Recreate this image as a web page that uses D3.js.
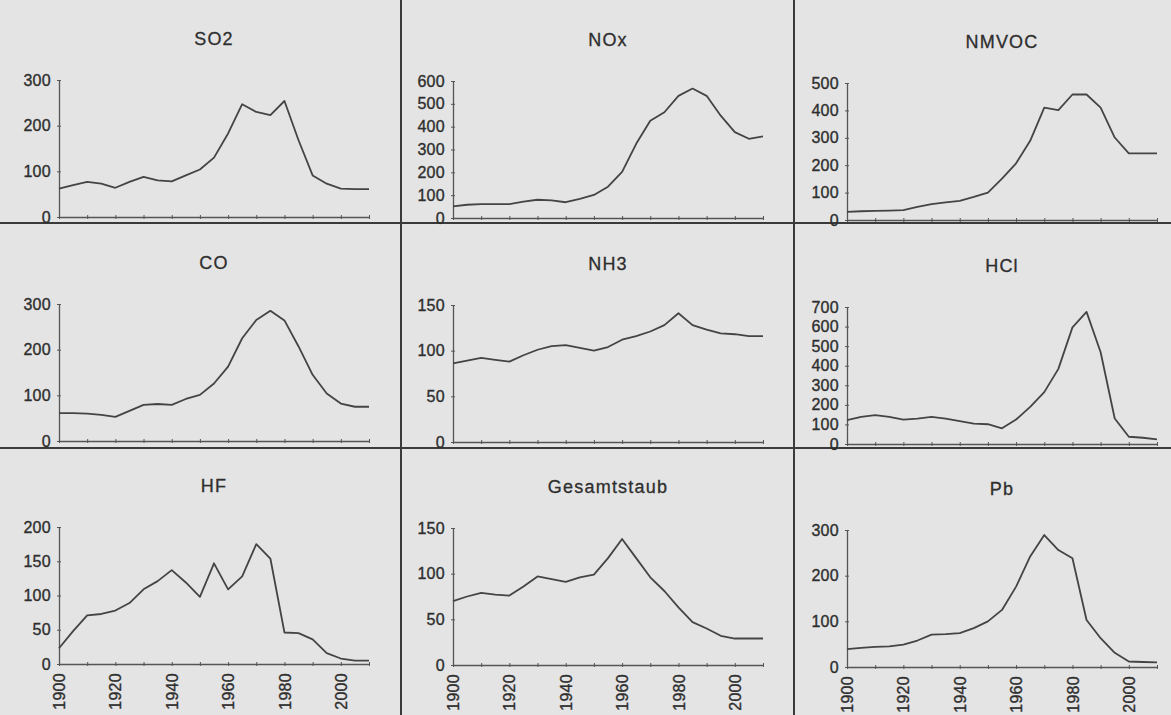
<html>
<head>
  <meta charset="utf-8"/>
  <title>Emissionen 1900-2010</title>
  <style>
    body { margin: 0; background: #e4e4e4; }
    svg { display: block; }
    text { font-family: "Liberation Sans", Arial, sans-serif; fill: #2e2e2e; }
  </style>
</head>
<body>
  <div id="chart"></div>
  <script src="https://d3js.org/d3.v7.min.js"></script>
  <script>

  // years (every 5 years)
  var years = [1900, 1905, 1910, 1915, 1920, 1925, 1930, 1935, 1940, 1945, 1950, 1955,
               1960, 1965, 1970, 1975, 1980, 1985, 1990, 1995, 2000, 2005, 2010];

  var titles = ["SO2", "NOx", "NMVOC", "CO", "NH3", "HCl", "HF", "Gesamtstaub", "Pb"];

  var so2   = [62, 70, 77, 73, 64, 77, 88, 80, 78, 91, 104, 130, 183, 247, 230, 223, 254, 168, 91, 73, 62, 61, 61];
  var nox   = [51, 58, 61, 61, 61, 72, 80, 77, 69, 84, 101, 137, 202, 325, 426, 463, 535, 567, 535, 448, 376, 347, 357];
  var nmvoc = [30, 32, 33, 34, 36, 48, 58, 64, 70, 84, 100, 151, 207, 289, 410, 401, 458, 458, 410, 301, 243, 243, 243];
  var co    = [61, 61, 60, 57, 53, 66, 79, 81, 79, 92, 101, 126, 163, 225, 265, 285, 264, 207, 145, 104, 82, 75, 75];
  var nh3   = [86, 89, 92, 90, 88, 95, 101, 105, 106, 103, 100, 104, 112, 116, 121, 128, 141, 128, 123, 119, 118, 116, 116];
  var hcl   = [122, 139, 147, 139, 125, 130, 139, 130, 117, 104, 101, 80, 125, 190, 265, 384, 596, 675, 469, 130, 37, 32, 24];
  var hf    = [23, 48, 71, 73, 78, 89, 109, 121, 137, 119, 98, 147, 109, 128, 175, 154, 46, 45, 36, 16, 8, 5, 5];
  var staub = [70, 75, 79, 77, 76, 86, 97, 94, 91, 96, 99, 117, 138, 117, 96, 81, 63, 47, 40, 32, 29, 29, 29];
  var pb    = [39, 42, 44, 45, 49, 58, 71, 72, 74, 85, 100, 125, 176, 242, 289, 256, 238, 103, 63, 31, 12, 11, 10];

  var series = [so2, nox, nmvoc, co, nh3, hcl, hf, staub, pb];

  var yMax  = [300, 600, 500, 300, 150, 700, 200, 150, 300];
  var yStep = [100, 100, 100, 100, 50, 100, 50, 50, 100];

  var W = 1171, H = 715;
  var colX = [59, 453, 847];      // y-axis position of each column
  var colDy = [0, 1, 3];          // small skew of the scan
  var rowZero = [217, 441, 664];  // y of the zero line per row
  var plotW = 310, plotH = 137;

  var svg = d3.select("#chart").append("svg")
    .attr("width", W)
    .attr("height", H);

  svg.append("rect")
    .attr("width", W)
    .attr("height", H)
    .attr("fill", "#e4e4e4");

  // panel separators
  svg.selectAll("line.sepV")
    .data([401, 794])
    .enter().append("line")
    .attr("x1", function(d){ return d; })
    .attr("x2", function(d){ return d; })
    .attr("y1", 0).attr("y2", H)
    .attr("stroke", "#3a3a3a")
    .attr("stroke-width", 2);

  svg.selectAll("line.sepH")
    .data([223, 448])
    .enter().append("line")
    .attr("x1", 0).attr("x2", W)
    .attr("y1", function(d){ return d; })
    .attr("y2", function(d){ return d; })
    .attr("stroke", "#3a3a3a")
    .attr("stroke-width", 2);

  var decades = d3.range(1900, 2011, 10);

  titles.forEach(function(title, i){
    var col = i % 3, row = Math.floor(i / 3);
    var x0 = colX[col];
    var y0 = rowZero[row] + colDy[col];

    var g = svg.append("g").attr("transform", "translate(" + x0 + "," + (y0 - plotH) + ")");

    var x = d3.scaleLinear().domain([1900, 2010]).range([0, plotW]);
    var y = d3.scaleLinear().domain([0, yMax[i]]).range([plotH, 0]);

    // title
    g.append("text")
      .attr("x", plotW / 2)
      .attr("y", -35)
      .attr("text-anchor", "middle")
      .style("font-size", "18px")
      .style("letter-spacing", "1.2px")
      .attr("stroke", "#2e2e2e")
      .attr("stroke-width", 0.3)
      .text(title);

    // y axis
    var yAxis = d3.axisLeft(y)
      .tickValues(d3.range(0, yMax[i] + 1, yStep[i]))
      .tickSize(2)
      .tickSizeOuter(0)
      .tickPadding(6);

    var ya = g.append("g").call(yAxis);
    ya.select(".domain").attr("stroke", "#555").attr("stroke-width", 1.3);
    ya.selectAll(".tick line").attr("stroke", "#555").attr("x1", 2);
    ya.selectAll("text")
      .style("font-size", "16px")
      .style("letter-spacing", "0.3px")
      .attr("fill", "#2e2e2e")
      .attr("stroke", "#2e2e2e")
      .attr("stroke-width", 0.35);

    // x axis
    var xAxis = d3.axisBottom(x)
      .tickValues(decades)
      .tickSize(2)
      .tickSizeOuter(0)
      .tickFormat(function(d){ return (row == 2 && d % 20 == 0) ? d : ""; });

    var xa = g.append("g")
      .attr("transform", "translate(0," + plotH + ")")
      .call(xAxis);
    xa.select(".domain").attr("stroke", "#555").attr("stroke-width", 1.3);
    xa.selectAll(".tick line").attr("stroke", "#555").attr("y1", -2);
    xa.selectAll("text")
      .attr("transform", "rotate(-90)")
      .attr("x", -9)
      .attr("y", 0)
      .attr("dy", "0.35em")
      .attr("text-anchor", "end")
      .style("font-size", "16px")
      .style("letter-spacing", "0.3px")
      .attr("fill", "#2e2e2e")
      .attr("stroke", "#2e2e2e")
      .attr("stroke-width", 0.35);

    // data line
    var line = d3.line()
      .x(function(d, k){ return x(years[k]); })
      .y(function(d){ return y(d); });

    g.append("path")
      .datum(series[i])
      .attr("d", line)
      .attr("fill", "none")
      .attr("stroke", "#444")
      .attr("stroke-width", 1.8)
      .attr("stroke-linejoin", "round");
  });

  </script>
</body>
</html>
